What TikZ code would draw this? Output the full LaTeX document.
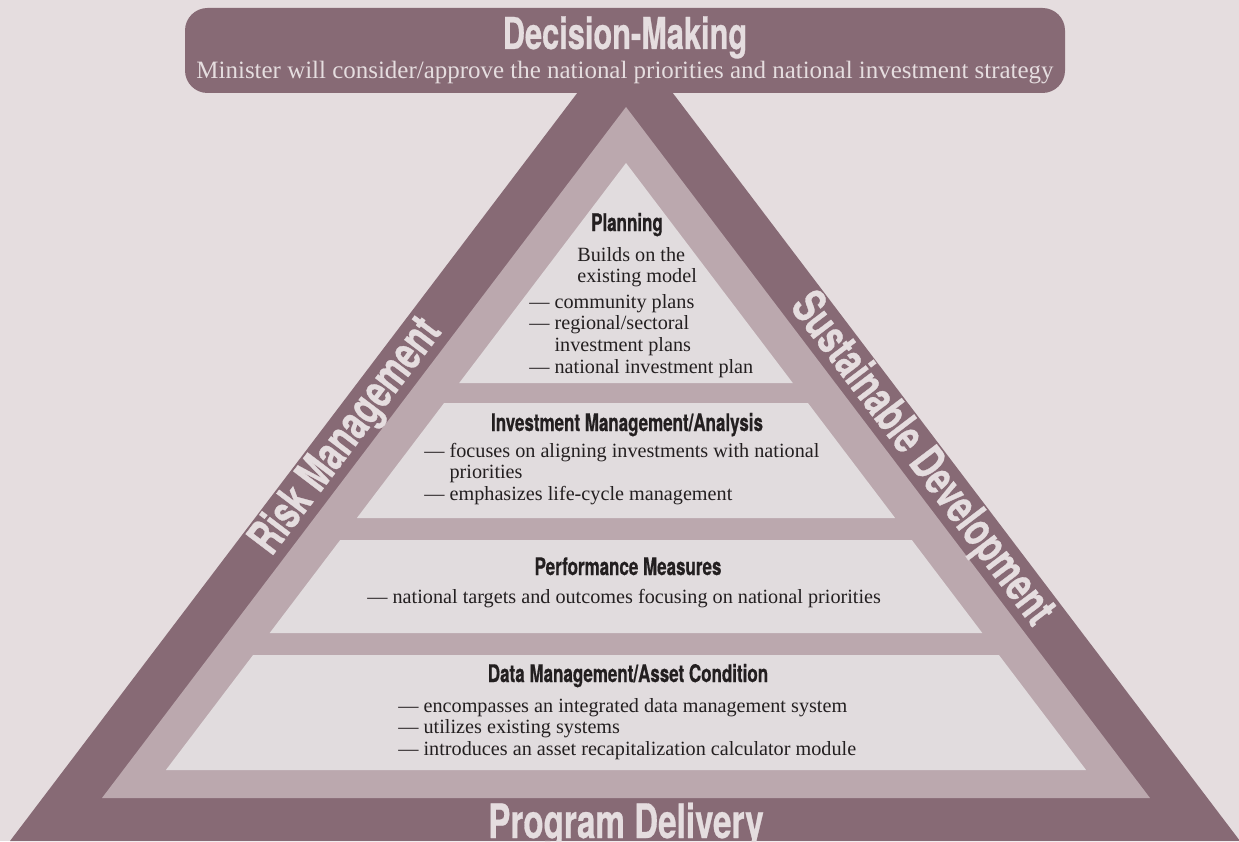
\documentclass[tikz,border=0pt]{standalone}
\usepackage{fontspec}
\setmainfont{Liberation Serif}
\newfontfamily\headfont[FakeStretch=0.7,BoldFeatures={FakeBold=0.6}]{TeX Gyre Heros}
\usetikzlibrary{positioning}
\definecolor{paper}{HTML}{E5DDDF}
\definecolor{plum}{HTML}{876A75}
\definecolor{mauve}{HTML}{BBA8AE}
\definecolor{pale}{HTML}{E1DCDE}
\definecolor{ink}{HTML}{231F20}
\tikzstyle{title}=[font=\headfont\bfseries\fontsize{25}{28}\selectfont,
text=paper,anchor=base,inner sep=0pt]
\tikzstyle{side}=[font=\headfont\bfseries\fontsize{27}{30}\selectfont,
text=paper,inner sep=0pt]
\tikzstyle{lead}=[font=\fontsize{14.2}{16}\selectfont,text=paper,
anchor=base,inner sep=0pt]
\tikzstyle{head}=[font=\headfont\bfseries\fontsize{13.8}{16}\selectfont,
text=ink,anchor=base,inner sep=0pt]
\tikzstyle{body}=[font=\fontsize{11.5}{12.5}\selectfont,text=ink,
anchor=base west,inner sep=0pt]
\newcommand\dashlist[1]{\begin{tabular}[t]{@{}l@{\ }l@{}}#1\end{tabular}}

\begin{document}
\begin{tikzpicture}[x=0.02cm,y=-0.02cm]
  \useasboundingbox (0,0) rectangle (1239,841);
  \fill[paper] (0,0) rectangle (1239,841);
  % Frame
  \fill[plum] (625,30) -- (1240,841) -- (10,841) -- cycle;
  \fill[mauve] (626,107) -- (1150,798) -- (102,798) -- cycle;
  % Levels
  \fill[pale] (626,163) -- (792.8,383) -- (459.2,383) -- cycle;
  \fill[pale] (444.1,403) -- (807.9,403) -- (895.1,518) -- (356.9,518) -- cycle;
  \fill[pale] (340.2,540) -- (911.8,540) -- (982.3,633) -- (269.7,633) -- cycle;
  \fill[pale] (253.1,655) -- (998.9,655) -- (1086.1,770) -- (165.9,770) -- cycle;
  % Banner
  \fill[plum,rounded corners=0.45cm] (185,8) rectangle (1065,93);
  \node[title] (decision) at (625,49) {Decision-Making};
  \node[lead] (minister) at (625,79)
    {Minister will consider/approve the national priorities and national investment strategy};
  % Sides
  \node[side,rotate=52.8] (risk) at (347,437) {Risk Management};
  \node[side,rotate=-52.8] (sustain) at (921,460) {Sustainable Development};
  \node[side,anchor=base] (delivery) at (626,838) {Program Delivery};
  % Planning
  \node[head] (planning) at (627,231) {Planning};
  \node[body] (builds) at (577,261)
    {\begin{tabular}[t]{@{}l@{}}Builds on the\\existing model\end{tabular}};
  \node[body] (plans) at (529,308) {\dashlist{%
    \textemdash & community plans\\
    \textemdash & regional/sectoral\\
     & investment plans\\
    \textemdash & national investment plan}};
  % Investment
  \node[head] (invest) at (627,431) {Investment Management/Analysis};
  \node[body] (investlist) at (424,457) {\dashlist{%
    \textemdash & focuses on aligning investments with national\\
     & priorities\\
    \textemdash & emphasizes life-cycle management}};
  % Performance
  \node[head] (perform) at (628,575) {Performance Measures};
  \node[body] (performlist) at (367,603) {\dashlist{%
    \textemdash & national targets and outcomes focusing on national priorities}};
  % Data
  \node[head] (data) at (628,682) {Data Management/Asset Condition};
  \node[body] (datalist) at (398,712) {\dashlist{%
    \textemdash & encompasses an integrated data management system\\
    \textemdash & utilizes existing systems\\
    \textemdash & introduces an asset recapitalization calculator module}};
\end{tikzpicture}
\end{document}
